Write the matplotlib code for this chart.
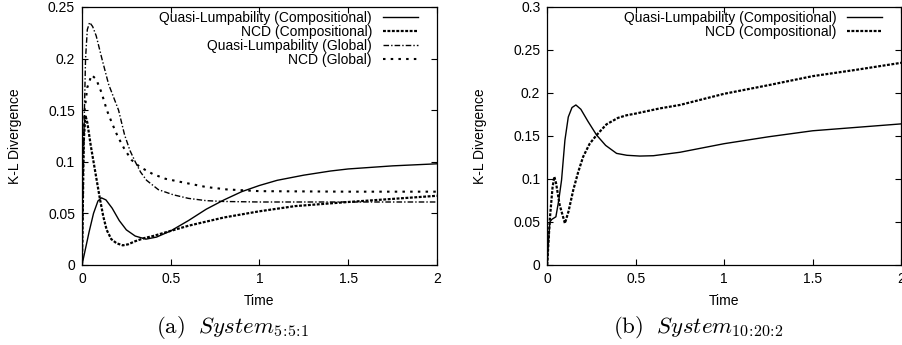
import numpy as np
import matplotlib
matplotlib.use("Agg")
import matplotlib.pyplot as plt

plt.rcParams["font.family"] = ["Liberation Sans", "DejaVu Sans"]
plt.rcParams["mathtext.fontset"] = "cm"

# (a) System 5:5:1
t_ql_c = [0, 0.02, 0.04, 0.065, 0.09, 0.11, 0.135, 0.17, 0.21, 0.25, 0.3, 0.36, 0.42, 0.5,
          0.6, 0.7, 0.8, 0.9, 1.0, 1.1, 1.25, 1.4, 1.5, 1.75, 2.0]
y_ql_c = [0, 0.016, 0.032, 0.05, 0.062, 0.065, 0.063, 0.055, 0.043, 0.034, 0.028, 0.025, 0.027, 0.033,
          0.043, 0.054, 0.063, 0.071, 0.077, 0.082, 0.087, 0.091, 0.093, 0.096, 0.098]

t_ncd_c = [0, 0.005, 0.01, 0.019, 0.03, 0.05, 0.073, 0.1, 0.12, 0.139, 0.165, 0.195, 0.23, 0.26,
           0.3, 0.35, 0.4, 0.5, 0.6, 0.7, 0.8, 1.0, 1.2, 1.5, 1.75, 2.0]
y_ncd_c = [0, 0.06, 0.12, 0.145, 0.138, 0.115, 0.092, 0.065, 0.047, 0.034, 0.025, 0.021, 0.019, 0.02,
           0.023, 0.026, 0.028, 0.033, 0.038, 0.042, 0.046, 0.052, 0.057, 0.061, 0.064, 0.067]

t_ql_g = [0, 0.01, 0.02, 0.03, 0.043, 0.06, 0.08, 0.112, 0.15, 0.206, 0.24, 0.27, 0.3, 0.33, 0.364,
          0.43, 0.514, 0.6, 0.7, 0.8, 1.0, 1.5, 2.0]
y_ql_g = [0, 0.12, 0.2, 0.228, 0.235, 0.231, 0.222, 0.2, 0.175, 0.15, 0.126, 0.111, 0.1, 0.09, 0.082,
          0.073, 0.068, 0.0645, 0.0623, 0.0615, 0.061, 0.061, 0.061]

t_ncd_g = [0, 0.005, 0.015, 0.03, 0.054, 0.08, 0.11, 0.14, 0.17, 0.2, 0.24, 0.28, 0.326, 0.4, 0.47,
           0.551, 0.7, 0.814, 1.0, 1.5, 2.0]
y_ncd_g = [0, 0.1, 0.15, 0.172, 0.184, 0.18, 0.167, 0.15, 0.137, 0.125, 0.112, 0.1016, 0.095, 0.088,
           0.0835, 0.0806, 0.0755, 0.0732, 0.0715, 0.071, 0.071]

# (b) System 10:20:2
t_ql_b = [0, 0.008, 0.015, 0.026, 0.049, 0.065, 0.081, 0.1, 0.119, 0.14, 0.162, 0.19, 0.23, 0.279,
          0.33, 0.392, 0.45, 0.523, 0.6, 0.75, 1.0, 1.25, 1.5, 1.75, 2.0]
y_ql_b = [0, 0.03, 0.05, 0.053, 0.056, 0.075, 0.0987, 0.145, 0.172, 0.183, 0.186, 0.181, 0.167, 0.151,
          0.139, 0.1297, 0.1275, 0.1266, 0.127, 0.131, 0.141, 0.149, 0.156, 0.160, 0.164]

t_ncd_b = [0, 0.008, 0.015, 0.03, 0.04, 0.05, 0.07, 0.1, 0.12, 0.147, 0.175, 0.203, 0.24, 0.279,
           0.335, 0.4, 0.448, 0.5, 0.636, 0.75, 1.0, 1.25, 1.5, 1.75, 2.0]
y_ncd_b = [0, 0.03, 0.054, 0.09, 0.1026, 0.095, 0.07, 0.0484, 0.062, 0.087, 0.108, 0.1258, 0.141, 0.151,
           0.1635, 0.171, 0.174, 0.176, 0.182, 0.186, 0.199, 0.209, 0.2195, 0.227, 0.235]

labels = ["Quasi-Lumpability (Compositional)", "NCD (Compositional)",
          "Quasi-Lumpability (Global)", "NCD (Global)"]

fig = plt.figure(figsize=(9.03, 3.45), dpi=100)
ax1 = fig.add_axes([0.0908, 0.232, 0.393, 0.748])
ax2 = fig.add_axes([0.606, 0.232, 0.392, 0.748])

ax1.plot(t_ql_c, y_ql_c, color="black", lw=1.0, label=labels[0])
ax1.plot(t_ncd_c, y_ncd_c, color="black", lw=1.6, ls=(0, (1.3, 0.7)), label=labels[1])
ax1.plot(t_ql_g, y_ql_g, color="black", lw=1.0, ls=(0, (4, 1.5, 1, 1.5)), label=labels[2])
ax1.plot(t_ncd_g, y_ncd_g, color="black", lw=1.5, ls=(0, (1.2, 2.5)), label=labels[3])

ax2.plot(t_ql_b, y_ql_b, color="black", lw=1.0, label=labels[0])
ax2.plot(t_ncd_b, y_ncd_b, color="black", lw=1.6, ls=(0, (1.3, 0.7)), label=labels[1])

for ax, ymax, yt in [(ax1, 0.25, [0, 0.05, 0.1, 0.15, 0.2, 0.25]),
                     (ax2, 0.3, [0, 0.05, 0.1, 0.15, 0.2, 0.25, 0.3])]:
    ax.set_xlim(0, 2)
    ax.set_ylim(0, ymax)
    ax.set_xticks([0, 0.5, 1, 1.5, 2])
    ax.set_xticklabels(["0", "0.5", "1", "1.5", "2"])
    ax.set_yticks(yt)
    ax.set_yticklabels([("%g" % v) for v in yt])
    ax.tick_params(direction="in", length=4, width=0.8, top=True, right=True, labelsize=10, pad=5)
    ax.set_xlabel("Time", fontsize=10, labelpad=6)
    ax.set_ylabel("K-L Divergence", fontsize=10, labelpad=19)
    for s in ax.spines.values():
        s.set_linewidth(0.9)
    ax.legend(loc="upper right", bbox_to_anchor=(0.958, 1.0), frameon=False, markerfirst=False,
              fontsize=10, handlelength=2.5, handletextpad=0.8, labelspacing=0.0,
              borderaxespad=0.1, borderpad=0.2)

for leg in [ax1.get_legend(), ax2.get_legend()]:
    for txt in leg.get_texts():
        txt.set_ha("right")
    leg._legend_box.align = "right"

fig.text(0.2575, 0.05, r"$\mathrm{(a)}\ \ System_{5\!:\!5\!:\!1}$",
         ha="center", va="center", fontsize=16.5)
fig.text(0.774, 0.05, r"$\mathrm{(b)}\ \ System_{10\!:\!20\!:\!2}$",
         ha="center", va="center", fontsize=16.5)

fig.savefig("out.png", dpi=100)
